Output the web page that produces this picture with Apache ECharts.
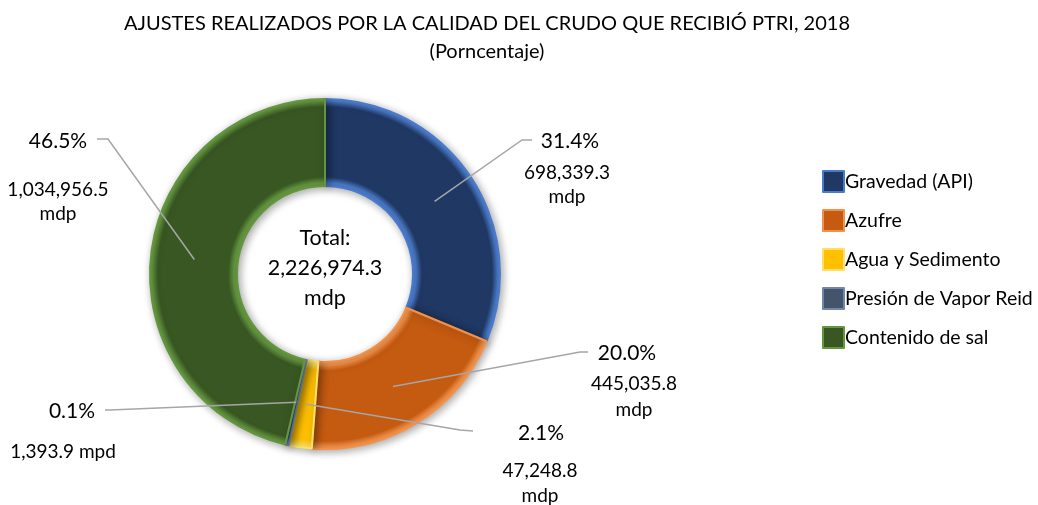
<!DOCTYPE html>
<html>
<head>
<meta charset="utf-8">
<script src="https://cdn.jsdelivr.net/npm/echarts@6/dist/echarts.min.js"></script>
<style>
  html, body { margin: 0; padding: 0; background: #fff; }
  #main { width: 1038px; height: 505px; }
</style>
</head>
<body>
<div id="main"></div>
<script>
// datos
var categories = ['Gravedad (API)', 'Azufre', 'Agua y Sedimento', 'Presión de Vapor Reid', 'Contenido de sal'];
var values = [698339.3, 445035.8, 47248.8, 1393.9, 1034956.5];
var units = ['mdp', 'mdp', 'mdp', 'mpd', 'mdp'];

// colores: relleno y borde claro (efecto bisel)
var fills = ['#203864', '#C55A11', '#FFC000', '#44546A', '#385723'];
var rims = ['#4A7BCB', '#F2924A', '#FFE066', '#7286A8', '#64963F'];

var center = [325, 274], rIn = 88, rOut = 175;

// posiciones de las etiquetas como en la grafica original
var pctPos = [[570, 141], [627, 353], [541, 433], [72, 411], [58, 141]];
var valPos = [[567, 185], [634, 397], [540, 483], [63, 452], [58, 202]];
var lineEnd = [
    [[522, 140], [532, 140]],
    [[580, 352], [588, 352]],
    [[460, 430], [473, 431]],
    [[110, 410], [105, 410]],
    [[108, 139], [97, 139]]
];
var valSep = ['\n', '\n', '\n', ' ', '\n'];
var valLH = [24, 26, 25, 24, 24];

var total = values.reduce(function (a, b) { return a + b; }, 0);

function fmt(v) {
    return v.toLocaleString('en-US', {minimumFractionDigits: 1, maximumFractionDigits: 1});
}

// punto de anclaje de la linea guia: mitad del anillo, angulo medio del sector
function anchor(i) {
    var before = 0;
    for (var j = 0; j < i; j++) before += values[j];
    var mid = (before + values[i] / 2) / total * 2 * Math.PI;
    var r = (rIn + rOut) / 2;
    return [center[0] + r * Math.sin(mid), center[1] - r * Math.cos(mid)];
}

// degradado radial: borde claro en los bordes interior y exterior del anillo
function bevel(i) {
    return {
        type: 'radial', x: center[0], y: center[1], r: rOut, global: true,
        colorStops: [
            {offset: 0, color: rims[i]},
            {offset: (rIn + 3) / rOut, color: rims[i]},
            {offset: (rIn + 9) / rOut, color: fills[i]},
            {offset: (rOut - 8) / rOut, color: fills[i]},
            {offset: (rOut - 2) / rOut, color: rims[i]},
            {offset: 1, color: rims[i]}
        ]
    };
}

var chart = echarts.init(document.getElementById('main'));

var option = {
    animation: false,
    title: {
        text: 'AJUSTES REALIZADOS POR LA CALIDAD DEL CRUDO QUE RECIBIÓ PTRI, 2018',
        subtext: '(Porncentaje)',
        left: 482,
        top: 8,
        textAlign: 'center',
        itemGap: 6,
        textStyle: {fontFamily: 'Lato', fontSize: 20, fontWeight: 'normal', color: '#000', lineHeight: 22},
        subtextStyle: {fontFamily: 'Lato', fontSize: 20, color: '#000', lineHeight: 22}
    },
    legend: {
        orient: 'vertical',
        left: 817,
        top: 165,
        itemWidth: 21,
        itemHeight: 21,
        itemGap: 16,
        icon: 'rect',
        textStyle: {fontFamily: 'Lato', fontSize: 19.5, lineHeight: 21, color: '#000', padding: [0, 0, 0, -4]},
        data: categories.map(function (c, i) {
            return {name: c, itemStyle: {color: fills[i], borderColor: rims[i], borderWidth: 2}};
        })
    },
    graphic: [{
        type: 'text',
        x: center[0],
        y: 268,
        style: {
            text: 'Total:\n' + fmt(total) + '\nmdp',
            align: 'center',
            verticalAlign: 'middle',
            fontFamily: 'Lato',
            fontSize: 21.5,
            lineHeight: 30,
            fill: '#000'
        }
    }],
    series: [{
        type: 'pie',
        name: 'porcentaje',
        center: center,
        radius: [rIn, rOut],
        startAngle: 90,
        clockwise: true,
        minAngle: 1.2,
        avoidLabelOverlap: false,
        emphasis: {disabled: true},
        z: 2,
        itemStyle: {
            borderWidth: 2,
            shadowBlur: 8,
            shadowColor: 'rgba(0,0,0,0.35)',
            shadowOffsetX: 2,
            shadowOffsetY: 2
        },
        label: {
            show: true,
            position: 'outside',
            fontFamily: 'Lato',
            fontSize: 21,
            color: '#000',
            formatter: function (p) {
                return (p.value / total * 100).toFixed(1) + '%';
            }
        },
        labelLine: {show: false},
        labelLayout: function (p) {
            var i = p.dataIndex;
            return {x: pctPos[i][0], y: pctPos[i][1], align: 'center', verticalAlign: 'middle'};
        },
        data: categories.map(function (c, i) {
            return {name: c, value: values[i], itemStyle: {color: bevel(i), borderColor: rims[i]}};
        })
    }, {
        // serie transparente encima: etiquetas de valor y lineas guia
        type: 'pie',
        name: 'valor',
        center: center,
        radius: [rIn, rOut],
        startAngle: 90,
        clockwise: true,
        minAngle: 1.2,
        silent: true,
        z: 3,
        avoidLabelOverlap: false,
        itemStyle: {color: 'rgba(0,0,0,0)'},
        label: {
            show: true,
            position: 'outside',
            fontFamily: 'Lato',
            fontSize: 19,
            color: '#000',
            align: 'center',
            formatter: function (p) {
                return fmt(p.value) + valSep[p.dataIndex] + units[p.dataIndex];
            }
        },
        labelLine: {show: true, lineStyle: {color: '#A6A6A6', width: 1.5}},
        labelLayout: function (p) {
            var i = p.dataIndex;
            return {
                x: valPos[i][0],
                y: valPos[i][1],
                align: 'center',
                verticalAlign: 'middle',
                labelLinePoints: [anchor(i), lineEnd[i][0], lineEnd[i][1]]
            };
        },
        data: categories.map(function (c, i) {
            return {name: c, value: values[i], label: {lineHeight: valLH[i]}};
        })
    }]
};
chart.setOption(option);
</script>
</body>
</html>
